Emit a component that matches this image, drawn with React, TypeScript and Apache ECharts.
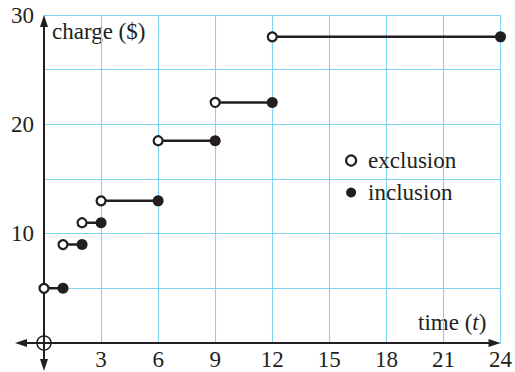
import React, { useEffect, useRef } from "react";
import * as echarts from "echarts";

// Step function: each piece runs from segStart (open) to segEnd (closed)
const segStart = [0, 1, 2, 3, 6, 9, 12];
const segEnd = [1, 2, 3, 6, 9, 12, 24];
const segCharge = [5, 9, 11, 13, 18.5, 22, 28];
const xTickLabels = [3, 6, 9, 12, 15, 18, 21, 24];
const yTickLabels = [10, 20, 30];
const legendNames = ["exclusion", "inclusion"];

const INK = "#231f20";
const GRIDC = "#7fd4f2";
const FONT = "'Liberation Serif', 'Times New Roman', serif";

export default function App() {
  const ref = useRef<HTMLDivElement>(null);
  useEffect(() => {
    const chart = echarts.init(ref.current!, null, { renderer: "svg" });

    const lineSeries = segStart.map((s, i) => ({
      type: "line",
      data: [
        [s, segCharge[i]],
        [segEnd[i], segCharge[i]],
      ],
      symbol: "none",
      showSymbol: false,
      lineStyle: { color: INK, width: 2.5 },
      z: 3,
      silent: true,
    }));

    const axesSeries = {
      type: "custom",
      data: [[0, 0]],
      z: 2,
      silent: true,
      renderItem: (_p: any, api: any) => {
        const o = api.coord([0, 0]);
        const t = api.coord([0, 30]);
        const r = api.coord([24, 0]);
        const extL = 29;
        const extB = 28;
        const L = 12;
        const H = 4;
        const st = { stroke: INK, lineWidth: 2 };
        const fl = { fill: INK };
        return {
          type: "group",
          children: [
            { type: "line", shape: { x1: o[0] - extL + 4, y1: o[1], x2: r[0] - 4, y2: o[1] }, style: st },
            { type: "line", shape: { x1: o[0], y1: t[1] + 4, x2: o[0], y2: o[1] + extB - 4 }, style: st },
            { type: "polygon", shape: { points: [[r[0], o[1]], [r[0] - L, o[1] - H], [r[0] - L, o[1] + H]] }, style: fl },
            { type: "polygon", shape: { points: [[o[0] - extL, o[1]], [o[0] - extL + L, o[1] - H], [o[0] - extL + L, o[1] + H]] }, style: fl },
            { type: "polygon", shape: { points: [[o[0], t[1]], [o[0] - H, t[1] + L], [o[0] + H, t[1] + L]] }, style: fl },
            { type: "polygon", shape: { points: [[o[0], o[1] + extB], [o[0] - H, o[1] + extB - L], [o[0] + H, o[1] + extB - L]] }, style: fl },
            { type: "circle", shape: { cx: o[0], cy: o[1], r: 7 }, style: { fill: "none", stroke: INK, lineWidth: 1.5 } },
          ],
        };
      },
    };

    const option: any = {
      animation: false,
      grid: { left: 44, right: 13, top: 15, bottom: 29, containLabel: false },
      xAxis: {
        type: "value",
        min: 0,
        max: 24,
        interval: 3,
        axisLine: { show: false },
        axisTick: { show: false },
        splitLine: { show: true, lineStyle: { color: GRIDC, width: 1.1 } },
        axisLabel: {
          formatter: (v: number) => (xTickLabels.includes(v) ? String(v) : ""),
          fontFamily: FONT,
          fontSize: 23,
          color: INK,
          margin: 5,
        },
      },
      yAxis: {
        type: "value",
        min: 0,
        max: 30,
        interval: 5,
        axisLine: { show: false },
        axisTick: { show: false },
        splitLine: { show: true, lineStyle: { color: GRIDC, width: 1.1 } },
        axisLabel: {
          formatter: (v: number) => (yTickLabels.includes(v) ? String(v) : ""),
          fontFamily: FONT,
          fontSize: 23,
          color: INK,
          margin: 10,
        },
      },
      legend: {
        data: [
          { name: legendNames[0], itemStyle: { color: "#ffffff", borderColor: INK, borderWidth: 2.2 } },
          { name: legendNames[1], itemStyle: { color: INK } },
        ],
        orient: "vertical",
        left: 340,
        top: 144,
        itemWidth: 10,
        itemHeight: 10,
        itemGap: 9,
        icon: "circle",
        selectedMode: false,
        textStyle: { fontFamily: FONT, fontSize: 23, color: INK, lineHeight: 22, padding: [0, 0, 0, 7] },
      },
      graphic: [
        {
          type: "text",
          left: 52,
          top: 20,
          style: { text: "charge ($)", font: `23px ${FONT}`, fill: INK },
        },
        {
          type: "text",
          left: 418,
          top: 311,
          style: {
            text: "{a|time (}{b|t}{a|)}",
            fill: INK,
            rich: {
              a: { fontFamily: FONT, fontSize: 23, fill: INK },
              b: { fontFamily: FONT, fontSize: 23, fontStyle: "italic", fill: INK },
            },
          },
        },
      ],
      series: [
        axesSeries,
        ...lineSeries,
        {
          name: legendNames[0],
          type: "scatter",
          data: segStart.map((s, i) => [s, segCharge[i]]),
          symbol: "circle",
          symbolSize: 9,
          itemStyle: { color: "#ffffff", borderColor: INK, borderWidth: 2.2, opacity: 1 },
          z: 4,
          silent: true,
        },
        {
          name: legendNames[1],
          type: "scatter",
          data: segEnd.map((e, i) => [e, segCharge[i]]),
          symbol: "circle",
          symbolSize: 11,
          itemStyle: { color: INK, opacity: 1 },
          z: 4,
          silent: true,
        },
      ],
    };
    chart.setOption(option);
    return () => chart.dispose();
  }, []);
  return (
    <div
      ref={ref}
      style={{ position: "absolute", left: 0, top: 0, width: 515, height: 372 }}
    />
  );
}
